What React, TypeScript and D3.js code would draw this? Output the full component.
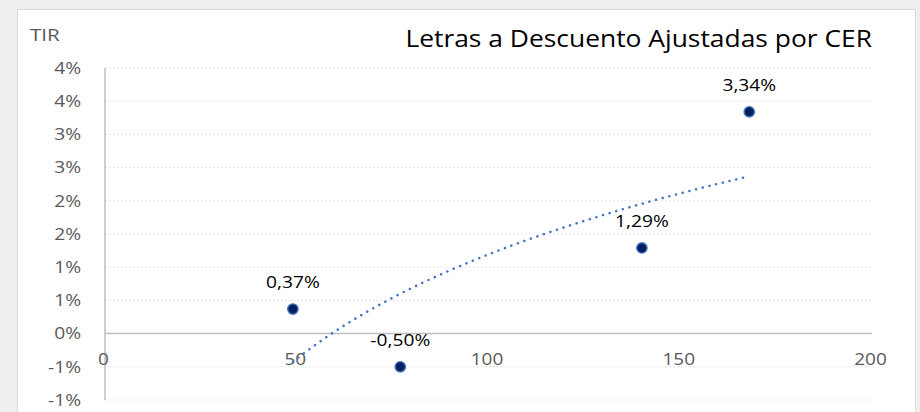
import React from "react";
import * as d3 from "d3";

const title = "Letras a Descuento Ajustadas por CER";
const yAxisTitle = "TIR";
const daysToMaturity = [49, 77, 140, 168];
const tirValues = [0.37, -0.5, 1.29, 3.34];
const pointLabels = ["0,37%", "-0,50%", "1,29%", "3,34%"];
const xTicks = [0, 50, 100, 150, 200];
const yTicks = [-1, -0.5, 0, 0.5, 1, 1.5, 2, 2.5, 3, 3.5, 4];

const W = 920;
const H = 412;
const FONT = "'Open Sans', 'Noto Sans', sans-serif";

function fmtPct(v: number) {
  const r = Math.sign(v) * Math.round(Math.abs(v));
  return `${r === 0 ? 0 : r}%`;
}

function SText(props: {
  x: number;
  y: number;
  sx?: number;
  size: number;
  fill: string;
  anchor?: "start" | "middle" | "end";
  dy?: string;
  children: React.ReactNode;
}) {
  const { x, y, sx = 1.2, size, fill, anchor = "start", dy, children } = props;
  return (
    <text
      transform={`translate(${x},${y}) scale(${sx},1)`}
      textAnchor={anchor}
      fontSize={size}
      fill={fill}
      dy={dy}
    >
      {children}
    </text>
  );
}

export default function App() {
  const x = d3.scaleLinear().domain([0, 200]).range([105, 872]);
  const y = d3.scaleLinear().domain([-1, 4]).range([400, 68]);

  // logarithmic trendline (least squares on ln x)
  const lx = daysToMaturity.map((d) => Math.log(d));
  const mx = d3.mean(lx) as number;
  const my = d3.mean(tirValues) as number;
  const sxy = d3.sum(lx.map((v, i) => (v - mx) * (tirValues[i] - my)));
  const sxx = d3.sum(lx.map((v) => (v - mx) * (v - mx)));
  const b = sxy / sxx;
  const a = my - b * mx;
  const [x0, x1] = d3.extent(daysToMaturity) as [number, number];
  const trendPts = d3.range(0, 61).map((i) => {
    const xv = x0 + ((x1 - x0) * i) / 60;
    return [xv, a + b * Math.log(xv)] as [number, number];
  });
  const line = d3
    .line<[number, number]>()
    .x((d) => x(d[0]))
    .y((d) => y(d[1]))
    .curve(d3.curveMonotoneX);

  return (
    <svg
      width={W}
      height={H}
      style={{ position: "fixed", left: 0, top: 0, fontFamily: FONT }}
    >
      <rect x={0} y={0} width={W} height={H} fill="#efefef" />
      <rect x={17.5} y={9.5} width={898} height={420} fill="#ffffff" stroke="#d9d9d9" />

      {/* gridlines */}
      {yTicks.map((t) =>
        t === 0 ? null : (
          <line
            key={t}
            x1={105}
            x2={872}
            y1={y(t)}
            y2={y(t)}
            stroke="#d9d9d9"
            strokeWidth={1}
            strokeDasharray="1.5,2.5"
          />
        )
      )}
      {/* zero axis */}
      <line x1={105} x2={872} y1={y(0)} y2={y(0)} stroke="#bfbfbf" strokeWidth={1.5} />
      {/* vertical axis */}
      <line x1={105} x2={105} y1={y(4)} y2={y(-1)} stroke="#bfbfbf" strokeWidth={1.5} />

      {/* y tick labels */}
      {yTicks.map((t) => (
        <SText key={t} x={81} y={y(t)} dy="0.36em" anchor="end" size={16} fill="#595959">
          {fmtPct(t)}
        </SText>
      ))}

      {/* x tick labels */}
      {xTicks.map((t) => (
        <SText key={t} x={x(t) - 1.5} y={y(0) + 31} anchor="middle" size={16.5} sx={1.15} fill="#595959">
          {t}
        </SText>
      ))}

      <SText x={30} y={41} size={16.5} sx={1.25} fill="#595959">
        {yAxisTitle}
      </SText>
      <SText x={872} y={47} anchor="end" size={24} sx={1.1} fill="#000000">
        {title}
      </SText>

      {/* trendline */}
      <path
        d={line(trendPts) || ""}
        fill="none"
        stroke="#4472c4"
        strokeWidth={2.5}
        strokeLinecap="round"
        strokeDasharray="0.1,6.8"
      />

      {/* points */}
      {daysToMaturity.map((d, i) => (
        <g key={d}>
          <circle
            cx={x(d)}
            cy={y(tirValues[i])}
            r={5.2}
            fill="#002060"
            stroke="#4a78c0"
            strokeWidth={1.4}
          />
          <SText
            x={x(d)}
            y={y(tirValues[i]) - 21}
            anchor="middle"
            size={16}
            sx={1.2}
            fill="#000000"
          >
            {pointLabels[i]}
          </SText>
        </g>
      ))}
    </svg>
  );
}
